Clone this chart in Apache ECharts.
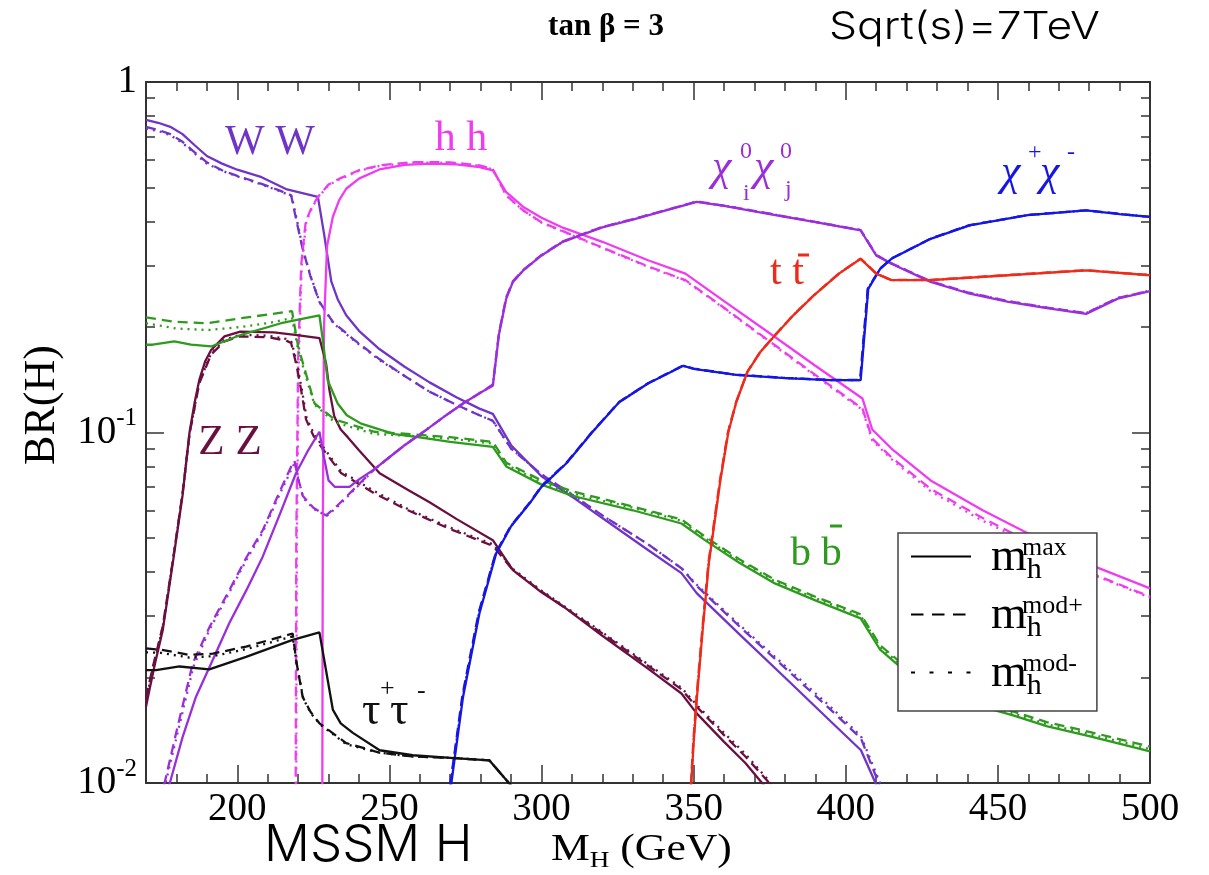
<!DOCTYPE html>
<html><head><meta charset="utf-8">
<script src="https://cdn.jsdelivr.net/npm/echarts@6/dist/echarts.min.js"></script>
<style>html,body{margin:0;padding:0;background:#fff}#c{width:1209px;height:875px}</style>
</head><body><div id="c"></div>
<script>
// ---- tick values ----
const xMajorTicks = [200,250,300,350,400,450,500];
const xMinorTicks = [180,190,210,220,230,240,260,270,280,290,310,320,330,340,360,370,380,390,410,420,430,440,460,470,480,490];
const yMajorTicks = [0.01,0.1,1];
const yMinorTicks = [0.02,0.03,0.04,0.05,0.06,0.07,0.08,0.09,0.2,0.3,0.4,0.5,0.6,0.7,0.8,0.9];

// ---- data: [M_H (GeV), BR] ----
const WW_max = [[170,0.78],[174,0.765],[178,0.745],[182,0.71],[186,0.66],[190,0.615],[195,0.585],[200,0.562],[208,0.535],[216,0.495],[226.5,0.47],[228.5,0.37],[230.9,0.27],[233,0.24],[235.8,0.216],[240,0.195],[246.7,0.173],[255,0.154],[263.2,0.139],[272,0.126],[279.6,0.117],[284,0.113],[290,0.092],[300,0.075],[310,0.0656],[320,0.057],[335,0.0462],[346,0.0397],[351,0.0348],[365,0.0266],[380,0.02],[395,0.015],[405,0.0124],[410,0.0099],[414,0.0075]];
const WW_modp = [[170,0.745],[174,0.73],[178,0.71],[182,0.675],[186,0.63],[190,0.59],[195,0.56],[200,0.54],[208,0.512],[214,0.49],[217.7,0.475],[219.5,0.4],[221.5,0.334],[224,0.28],[227,0.236],[231.4,0.207],[238,0.185],[246.7,0.162],[255,0.145],[263,0.131],[272,0.12],[279.6,0.112],[284,0.108],[290,0.09],[300,0.076],[310,0.0665],[320,0.058],[335,0.048],[346,0.041],[351,0.0365],[365,0.028],[380,0.0213],[395,0.0162],[405,0.0134],[411,0.0099],[415,0.0075]];
const WW_modm = [[170,0.735],[174,0.725],[178,0.705],[182,0.67],[186,0.625],[190,0.585],[195,0.558],[200,0.538],[208,0.51],[214,0.488],[217.9,0.472],[219.7,0.4],[221.7,0.33],[224.2,0.278],[227.2,0.234],[231.6,0.205],[238,0.184],[246.7,0.161],[255,0.145],[263,0.131],[272,0.12],[279.6,0.112],[284,0.108],[290,0.09],[300,0.076],[310,0.0665],[320,0.058],[335,0.048],[346,0.041],[351,0.0368],[365,0.0283],[380,0.0216],[395,0.0165],[405,0.0136],[411.5,0.0099],[415.5,0.0075]];

const hh_max = [[227.9,0.005],[228.1,0.05],[228.5,0.2],[229.5,0.34],[231.4,0.412],[233.5,0.46],[235.8,0.496],[240,0.53],[246.7,0.563],[255,0.58],[263.2,0.585],[272,0.582],[279.6,0.572],[284,0.56],[288.4,0.485],[294,0.44],[300,0.41],[307,0.384],[320,0.35],[335,0.31],[347.3,0.284],[360,0.237],[375,0.192],[390,0.155],[405.5,0.125],[408.7,0.102],[415,0.09],[427.9,0.073],[445,0.06],[459.8,0.0516],[479,0.0424],[500,0.0359]];
const hh_modp = [[219.1,0.005],[219.4,0.05],[220,0.16],[221,0.3],[222.5,0.4],[224.5,0.44],[226.5,0.47],[230,0.51],[233.6,0.53],[240,0.56],[246.7,0.578],[257.7,0.591],[270,0.59],[279.6,0.578],[284,0.565],[288.4,0.475],[294,0.43],[300,0.398],[320,0.337],[335,0.298],[347.3,0.272],[360,0.227],[375,0.182],[390,0.146],[405.5,0.117],[408.7,0.096],[415,0.085],[427.9,0.069],[445,0.057],[459.8,0.049],[479,0.0402],[500,0.034]];
const hh_modm = [[219.3,0.005],[219.6,0.05],[220.2,0.16],[221.2,0.3],[222.7,0.4],[224.7,0.44],[226.7,0.47],[230,0.508],[233.6,0.528],[240,0.558],[246.7,0.576],[257.7,0.589],[270,0.588],[279.6,0.576],[284,0.563],[288.4,0.474],[294,0.43],[300,0.397],[320,0.336],[335,0.297],[347.3,0.271],[360,0.226],[375,0.181],[390,0.145],[405.5,0.116],[408.7,0.095],[415,0.084],[427.9,0.068],[445,0.056],[459.8,0.0485],[479,0.04],[500,0.0338]];

const ZZ_max = [[170,0.0165],[171.1,0.0184],[173,0.022],[175.5,0.0273],[178.8,0.0424],[182,0.066],[184.3,0.1],[186,0.122],[187.5,0.141],[189.5,0.16],[191.4,0.172],[195.8,0.188],[201,0.194],[212,0.193],[219,0.19],[227,0.186],[228.2,0.17],[229.2,0.157],[230.3,0.132],[231.9,0.111],[234,0.102],[236.3,0.097],[240,0.089],[246.8,0.0765],[256,0.0687],[263.2,0.0632],[272,0.0567],[284,0.0493],[290.6,0.0405],[300,0.035],[308,0.0315],[320,0.0263],[335,0.0212],[346,0.018],[351,0.0158],[360,0.0131],[367,0.0114],[372.9,0.0099],[377,0.0088]];
const ZZ_modp = [[170,0.0175],[172,0.021],[175.5,0.028],[178.8,0.043],[182,0.067],[184.3,0.099],[187.5,0.138],[191.4,0.167],[195.8,0.182],[201,0.188],[210,0.187],[216,0.183],[217.7,0.18],[219.5,0.155],[221,0.132],[222.6,0.109],[225,0.098],[227.6,0.091],[234.1,0.0766],[245.1,0.067],[256.1,0.06],[270,0.053],[284,0.0475],[290.6,0.0405],[300,0.0352],[320,0.0267],[346,0.0185],[351,0.0165],[360,0.0137],[367,0.0119],[374,0.0102],[378,0.0092]];
const ZZ_modm = [[170,0.0172],[172,0.0207],[175.5,0.0278],[178.8,0.0428],[182,0.0665],[184.3,0.099],[187.5,0.139],[191.4,0.168],[195.8,0.184],[201,0.19],[210,0.189],[216,0.185],[217.9,0.181],[219.7,0.156],[221.2,0.133],[222.8,0.11],[225.2,0.099],[227.8,0.092],[234.1,0.0775],[245.1,0.068],[256.1,0.0605],[270,0.0535],[284,0.048],[290.6,0.0408],[300,0.0354],[320,0.0269],[346,0.0187],[351,0.0167],[360,0.0139],[367,0.0121],[374.5,0.0102],[378.5,0.0092]];

const bb_max = [[170,0.178],[172.2,0.178],[179.3,0.182],[184.8,0.178],[191.4,0.176],[201.3,0.19],[214.4,0.205],[227,0.216],[228.1,0.184],[229.7,0.141],[233,0.121],[236,0.112],[240.7,0.106],[251.7,0.099],[259.4,0.097],[270,0.094],[284,0.091],[288.4,0.08],[300,0.071],[310,0.066],[330,0.06],[346,0.055],[353.7,0.0493],[365,0.0425],[376.7,0.0371],[390,0.0332],[404.9,0.0295],[411.3,0.024],[417.7,0.0215],[430,0.0188],[440.7,0.0169],[455,0.0156],[466.3,0.0145],[480,0.0136],[500,0.0123]];
const bb_modp = [[170,0.213],[179.3,0.207],[190.3,0.205],[201.3,0.212],[210,0.217],[218,0.222],[220,0.176],[223.2,0.141],[225.4,0.121],[232,0.109],[245,0.1005],[260,0.0985],[270,0.097],[284,0.094],[288.4,0.082],[300,0.073],[310,0.068],[330,0.0615],[346,0.0565],[353.7,0.0505],[365,0.0435],[376.7,0.038],[390,0.034],[404.9,0.0303],[411.3,0.0247],[417.7,0.0222],[430,0.0193],[440.7,0.0174],[455,0.016],[466.3,0.0149],[480,0.014],[500,0.0127]];
const bb_modm = [[170,0.205],[180,0.198],[190.3,0.196],[201.3,0.2],[210,0.205],[218,0.212],[220,0.172],[223,0.14],[225.4,0.12],[232,0.107],[245,0.099],[260,0.0975],[270,0.096],[284,0.093],[288.4,0.081],[300,0.072],[310,0.067],[330,0.061],[346,0.056],[353.7,0.05],[365,0.043],[376.7,0.0376],[390,0.0337],[404.9,0.03],[411.3,0.0244],[417.7,0.0219],[430,0.0191],[440.7,0.0172],[455,0.0158],[466.3,0.0147],[480,0.0138],[500,0.0125]];

const chi0_max = [[176.5,0.008],[177.7,0.0099],[182,0.0135],[186.4,0.0176],[192,0.0225],[197.4,0.0286],[203,0.0355],[208.4,0.0443],[214,0.0585],[219.3,0.0765],[223,0.088],[227,0.1005],[228.5,0.085],[230,0.073],[232,0.07],[236.9,0.07],[240,0.0735],[244.6,0.078],[250,0.085],[255,0.092],[262,0.1016],[268,0.111],[274.2,0.121],[280,0.13],[284,0.136],[286,0.19],[288.4,0.241],[290.6,0.269],[294,0.29],[300,0.32],[307,0.35],[312.7,0.365],[320,0.385],[330,0.405],[340,0.428],[351,0.455],[360,0.443],[375,0.42],[390,0.398],[404.9,0.377],[410,0.32],[415,0.303],[427.9,0.269],[440,0.25],[453.5,0.236],[465,0.227],[479,0.218],[489.4,0.241],[500,0.253]];
const chi0_modp = [[175,0.008],[176,0.0099],[180,0.014],[185.4,0.022],[191,0.028],[197.4,0.0355],[203,0.044],[208.4,0.0527],[213,0.065],[218.2,0.0817],[218.8,0.083],[220,0.074],[221.5,0.066],[225,0.061],[229.2,0.058],[233,0.062],[238,0.0685],[244.6,0.078],[250,0.085],[255,0.092],[262,0.1016],[268,0.111],[274.2,0.121],[280,0.13],[284,0.137],[286,0.192],[288.4,0.243],[290.6,0.27],[294,0.291],[300,0.321],[307,0.351],[312.7,0.366],[320,0.386],[330,0.406],[340,0.429],[351,0.456],[360,0.444],[375,0.421],[390,0.399],[404.9,0.378],[410,0.321],[415,0.304],[427.9,0.27],[440,0.251],[453.5,0.237],[465,0.228],[479,0.219],[489.4,0.242],[500,0.254]];
const chi0_modm = [[175.3,0.008],[176.3,0.0099],[180.3,0.0138],[185.6,0.0215],[191,0.0275],[197.4,0.035],[203,0.0433],[208.4,0.052],[213,0.064],[218.4,0.0805],[219,0.082],[220.2,0.073],[221.7,0.065],[225.2,0.0605],[229.4,0.0578],[233,0.0615],[238,0.068],[244.6,0.0778],[250,0.085],[255,0.092],[262,0.1016],[268,0.111],[274.2,0.121],[280,0.13],[284,0.1365],[286,0.191],[288.4,0.242],[290.6,0.27],[294,0.29],[300,0.32],[307,0.35],[312.7,0.366],[320,0.386],[330,0.406],[340,0.429],[351,0.456],[360,0.444],[375,0.421],[390,0.399],[404.9,0.378],[410,0.321],[415,0.304],[427.9,0.27],[440,0.251],[453.5,0.237],[465,0.228],[479,0.219],[489.4,0.242],[500,0.254]];

const chic_max = [[269.5,0.008],[270.3,0.0099],[274.2,0.0176],[279.6,0.0305],[285.1,0.0452],[290,0.054],[296.1,0.0628],[300,0.07],[308.2,0.0817],[316.6,0.1],[325.5,0.122],[335,0.138],[346.6,0.155],[350,0.152],[363.9,0.146],[380,0.143],[395,0.141],[404.9,0.141],[407.4,0.257],[411.3,0.293],[415,0.313],[427.9,0.357],[440.7,0.39],[459.8,0.417],[479,0.43],[490,0.42],[500,0.412]];
const chic_modp = [[269.2,0.008],[270,0.0099],[274,0.0178],[279.4,0.0308],[285,0.0455],[290,0.0543],[296.1,0.063],[300,0.0703],[308.2,0.082],[316.6,0.1003],[325.5,0.1222],[335,0.1382],[346.4,0.1552],[350,0.1522],[363.9,0.1462],[380,0.1432],[395,0.1412],[404.7,0.1412],[407.2,0.257],[411.3,0.2935],[415,0.3135],[427.9,0.3575],[440.7,0.3905],[459.8,0.4175],[479,0.4305],[490,0.4205],[500,0.4125]];
const chic_modm = [[269.3,0.008],[270.1,0.0099],[274.1,0.0177],[279.5,0.0306],[285,0.0453],[290,0.0541],[296.1,0.0629],[300,0.0701],[308.2,0.0818],[316.6,0.1001],[325.5,0.1221],[335,0.1381],[346.5,0.1551],[350,0.1521],[363.9,0.1461],[380,0.1431],[395,0.1411],[404.8,0.1411],[407.3,0.257],[411.3,0.2932],[415,0.3132],[427.9,0.3572],[440.7,0.3902],[459.8,0.4172],[479,0.4302],[490,0.4202],[500,0.4122]];

const tt_max = [[348.8,0.008],[349.2,0.0099],[350,0.013],[351.1,0.0176],[353,0.0275],[355,0.0424],[358.8,0.0732],[361.4,0.1],[364,0.122],[367.7,0.149],[372,0.17],[376.7,0.189],[383,0.217],[389.5,0.246],[398,0.285],[404.9,0.313],[410,0.284],[415,0.272],[427.9,0.272],[453.5,0.281],[479,0.29],[500,0.281]];
const tt_modp = [[348.7,0.008],[349.1,0.0099],[349.9,0.0132],[351,0.0178],[352.9,0.0278],[354.9,0.0428],[358.7,0.0736],[361.3,0.1004],[364,0.1224],[367.7,0.1494],[372,0.1704],[376.7,0.1894],[383,0.2174],[389.5,0.2464],[398,0.2854],[404.9,0.3134],[410,0.2844],[415,0.2724],[427.9,0.2724],[453.5,0.2814],[479,0.2904],[500,0.2814]];
const tt_modm = [[348.75,0.008],[349.15,0.0099],[349.95,0.0131],[351.05,0.0177],[352.95,0.0276],[354.95,0.0426],[358.75,0.0734],[361.35,0.1002],[364,0.1222],[367.7,0.1492],[372,0.1702],[376.7,0.1892],[383,0.2172],[389.5,0.2462],[398,0.2852],[404.9,0.3132],[410,0.2842],[415,0.2722],[427.9,0.2722],[453.5,0.2812],[479,0.2902],[500,0.2812]];

const tau_max = [[170,0.021],[173.3,0.021],[181,0.0215],[190.8,0.0211],[202.9,0.0229],[218.2,0.0256],[227,0.0269],[229,0.0214],[231.4,0.0162],[234,0.0148],[238,0.0139],[246.8,0.0124],[257.7,0.012],[270,0.0118],[282.9,0.0116],[288,0.0103],[290.6,0.0097],[293,0.009]];
const tau_modp = [[170,0.0242],[175,0.024],[184.3,0.0232],[192,0.0234],[202.9,0.0245],[218.2,0.0267],[219.5,0.022],[221.5,0.0176],[224,0.016],[227,0.0148],[235.8,0.013],[246.8,0.0122],[257.7,0.0119],[270,0.0118],[282.9,0.0116],[288,0.0103],[290.6,0.0097],[293,0.009]];
const tau_modm = [[170,0.0236],[175,0.0235],[184.3,0.0228],[192,0.023],[202.9,0.0241],[218.2,0.0262],[219.7,0.0215],[221.7,0.0174],[224.2,0.0158],[227.2,0.0147],[235.8,0.0129],[246.8,0.0122],[257.7,0.0119],[270,0.0118],[282.9,0.0116],[288,0.0103],[290.6,0.0097],[293,0.009]];

// ---- styles ----
const COL = {WW:'#7035c8', hh:'#f03cf0', ZZ:'#6a1040', bb:'#2e9a1e', chi0:'#9a2fda', chic:'#1616e4', tt:'#ee2b1a', tau:'#111111'};
const DASH = [10,6], DOT = [2,5];
const SERIF = '"Liberation Serif", "DejaVu Serif", serif';
const SANS = 'Inter, "Liberation Sans", sans-serif';

const groups = [
  ['WW', WW_max, WW_modp, WW_modm],
  ['hh', hh_max, hh_modp, hh_modm],
  ['ZZ', ZZ_max, ZZ_modp, ZZ_modm],
  ['bb', bb_max, bb_modp, bb_modm],
  ['chi0', chi0_max, chi0_modp, chi0_modm],
  ['chic', chic_max, chic_modp, chic_modm],
  ['tt', tt_max, tt_modp, tt_modm],
  ['tau', tau_max, tau_modp, tau_modm]
];
const series = [];
groups.forEach(g => {
  const c = COL[g[0]];
  [[g[3], DOT, 'mod-'], [g[2], DASH, 'mod+'], [g[1], 'solid', 'max']].forEach(v => {
    series.push({
      type:'line', name: g[0] + ' ' + v[2], data: v[0], xAxisIndex:0, yAxisIndex:0,
      showSymbol:false, symbol:'none', smooth:false, animation:false, silent:true, clip:true,
      lineStyle:{color:c, width:2.3, type:v[1]}, itemStyle:{color:c}
    });
  });
});
// legend-only series
[['max','solid',2.2],['mod+',[12.5,8.5],2.2],['mod-',[4,14.5],3.5]].forEach(l => {
  series.push({type:'line', name:l[0], data:[], symbol:'none', showSymbol:false,
    lineStyle:{color:'#000', width:l[2], type:l[1]}, itemStyle:{color:'#000'}});
});

const axisCol = '#333';
function xAx(pos, ticks, len, main, label){
  return {type:'value', position:pos, min:170, max:500,
    axisLine:{show:main, onZero:false, lineStyle:{color:axisCol, width:2}},
    axisTick:{show:true, inside:true, length:len, customValues:ticks, lineStyle:{color:axisCol, width:1.5}},
    axisLabel: label ? {show:true, customValues:xMajorTicks, fontFamily:SERIF, fontSize:39, color:'#000', margin:7} : {show:false},
    splitLine:{show:false}};
}
function yAx(pos, ticks, len, main, label){
  return {type:'log', logBase:10, position:pos, min:0.01, max:1,
    axisLine:{show:main, onZero:false, lineStyle:{color:axisCol, width:2}},
    axisTick:{show:true, inside:true, length:len, customValues:ticks, lineStyle:{color:axisCol, width:1.5}},
    axisLabel: label ? {show:true, customValues:yMajorTicks, margin:9,
      formatter: v => { const e = Math.round(Math.log10(v)); return e === 0 ? '{b|1}' : '{b|10}{s|' + e + '}'; },
      rich:{ b:{fontFamily:SERIF, fontSize:39, lineHeight:38, color:'#000'},
             s:{fontFamily:SERIF, fontSize:25, lineHeight:10, padding:[0,0,28,0], color:'#000'} } } : {show:false},
    splitLine:{show:false}};
}

function txt(text, x, y, size, color, opt){
  opt = opt || {};
  return {type:'text', x:x, y:y, scaleX: opt.sx || 1, rotation: opt.rot || 0, silent:true, z:50,
    style:{text:text, x:0, y:0, font:(opt.st || 'normal') + ' ' + (opt.w || 'normal') + ' ' + size + 'px ' + (opt.f || SERIF), fill:color,
      textAlign: opt.a || 'left', textVerticalAlign:'middle'}};
}
function bar(x1, x2, y, color){
  return {type:'line', silent:true, z:50, shape:{x1:x1, y1:y, x2:x2, y2:y}, style:{stroke:color, lineWidth:3}};
}

const graphics = [
  txt('tan β = 3', 606, 26.5, 31, '#000', {a:'center', w:'bold'}),
  txt('Sqrt(s)=7TeV', 829, 28, 38, '#000', {f:SANS, w:'300', sx:1.17}),
  txt('MSSM H', 264, 846, 51, '#000', {f:SANS, w:'300'}),
  txt('BR(H)', 42, 405, 44, '#000', {a:'center', rot:Math.PI/2}),
  {type:'text', x:551, y:850, scaleX:1.18, silent:true, z:50, style:{x:0, y:0, textVerticalAlign:'middle',
     text:'{a|M}{s|H}{a| (GeV)}',
     rich:{a:{font:'37px ' + SERIF, fill:'#000', lineHeight:36},
           s:{font:'23px ' + SERIF, fill:'#000', lineHeight:10, padding:[22,0,0,0]}}}},
  // curve labels
  txt('W W', 270, 142.7, 42, COL.WW, {a:'center'}),
  txt('h h', 461, 139.4, 42, COL.hh, {a:'center'}),
  txt('Z Z', 230, 442.4, 43, COL.ZZ, {a:'center'}),
  txt('χ', 712, 168.5, 44, COL.chi0, {st:'italic'}), txt('0', 740, 151.8, 24, COL.chi0), txt('i', 743, 194, 24, COL.chi0),
  txt('χ', 754, 168.5, 44, COL.chi0, {st:'italic'}), txt('0', 780, 151.8, 24, COL.chi0), txt('j', 785, 190, 24, COL.chi0),
  txt('χ', 1001, 173.5, 44, COL.chic, {st:'italic'}), txt('+', 1028, 153, 24, COL.chic),
  txt('χ', 1040, 173.5, 44, COL.chic, {st:'italic'}), txt('-', 1067, 153, 24, COL.chic),
  txt('t t', 787, 272.7, 42, COL.tt, {a:'center'}), bar(798, 809, 255, COL.tt),
  txt('b b', 816, 554.3, 41, COL.bb, {a:'center'}), bar(830, 842, 526, COL.bb),
  txt('τ', 362, 712.4, 46, COL.tau), txt('+', 380, 689, 26, COL.tau),
  txt('τ', 390, 712.4, 46, COL.tau), txt('-', 417, 691, 26, COL.tau)
];

const chart = echarts.init(document.getElementById('c'), null, {renderer:'canvas'});
chart.setOption({
  backgroundColor:'#fff',
  animation:false,
  grid:{left:146, right:59, top:82, bottom:92, containLabel:false},
  xAxis:[ xAx('bottom', xMajorTicks, 18, true, true), xAx('bottom', xMinorTicks, 9, false, false),
          xAx('top', xMajorTicks, 18, true, false), xAx('top', xMinorTicks, 9, false, false) ],
  yAxis:[ yAx('left', yMajorTicks, 18, true, true), yAx('left', yMinorTicks, 9, false, false),
          yAx('right', yMajorTicks, 18, true, false), yAx('right', yMinorTicks, 9, false, false) ],
  legend:{
    show:true, orient:'vertical', left:898, top:533, padding:[2,14,2,12], itemGap:0,
    itemWidth:60, itemHeight:14, selectedMode:false, backgroundColor:'#fff',
    borderColor:'#444', borderWidth:1.5, borderRadius:0,
    itemStyle:{opacity:0, color:'rgba(0,0,0,0)', borderWidth:0},
    data:['max','mod+','mod-'],
    formatter: n => '{sp1| }{sup|' + n + '}\n{sp2| }{m|m}{sub|h}',
    textStyle:{color:'#000', rich:{
      sp1:{width:46, lineHeight:8, fontSize:8},
      sup:{fontFamily:SERIF, fontSize:26, lineHeight:15, color:'#000'},
      sp2:{width:15, lineHeight:8, fontSize:8},
      m:{fontFamily:SERIF, fontSize:46, lineHeight:16, padding:[0,0,12,0], color:'#000'},
      sub:{fontFamily:SERIF, fontSize:30, lineHeight:16, padding:[12,0,0,0], color:'#000'}
    }}
  },
  graphic: graphics,
  series: series
});
</script>
</body></html>
